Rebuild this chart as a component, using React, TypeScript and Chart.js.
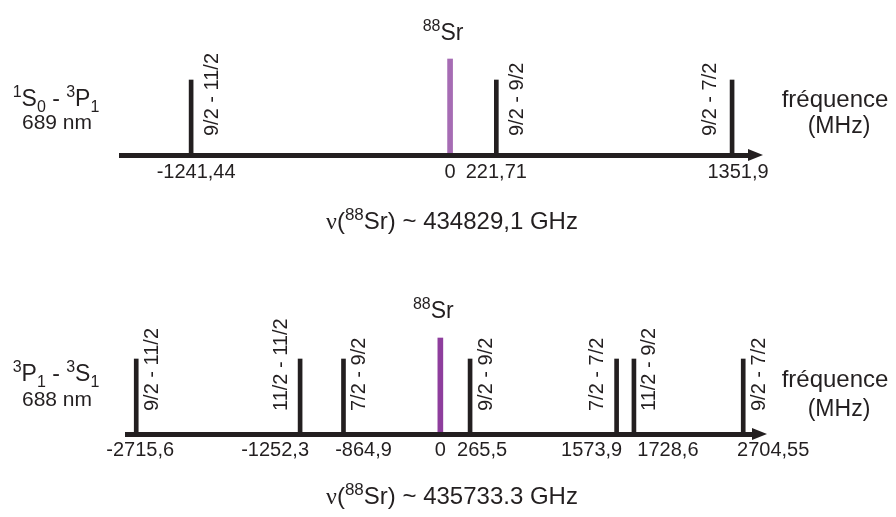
import React, { useEffect, useRef } from 'react';
import { Chart, registerables } from 'chart.js';

Chart.register(...registerables);

const FONT = '"Liberation Sans", Arial, Helvetica, sans-serif';
const SERIF = '"Liberation Serif", "Times New Roman", serif';
const INK = '#231f20';

// ---------- data: 1S0 - 3P1 (689 nm) ----------
const TOP_LINE_FREQS = [-1241.44, 221.71, 1351.9];
const TOP_LINE_NAMES = ['9/2 - 11/2', '9/2 - 9/2', '9/2 - 7/2'];
const TOP_LINE_SIDES = ['right', 'right', 'left'];
const TOP_REF_FREQS = [0];
const TOP_TICKS = [-1241.44, 0, 221.71, 1351.9];
const TOP_TICK_LABELS = ['-1241,44', '0', '221,71', '1351,9'];
const TOP_ABS_FREQ = '434829,1';

// ---------- data: 3P1 - 3S1 (688 nm) ----------
const BOT_LINE_FREQS = [-2715.6, -1252.3, -864.9, 265.5, 1573.9, 1728.6, 2704.55];
const BOT_LINE_NAMES = ['9/2 - 11/2', '11/2 - 11/2', '7/2 - 9/2', '9/2 - 9/2', '7/2 - 7/2', '11/2 - 9/2', '9/2 - 7/2'];
const BOT_LINE_SIDES = ['right', 'left', 'right', 'right', 'left', 'right', 'right'];
const BOT_REF_FREQS = [0];
const BOT_TICKS = [-2715.6, -1252.3, -864.9, 0, 265.5, 1573.9, 1728.6, 2704.55];
const BOT_TICK_LABELS = ['-2715,6', '-1252,3', '-864,9', '0', '265,5', '1573,9', '1728,6', '2704,55'];
const BOT_ABS_FREQ = '435733.3';

// relative heights of the drawn lines
const LINE_HEIGHT = 1;
const REF_HEIGHT = 1.28;
const Y_MAX = 1.52;

type Seg = { t: string; k?: 'sup' | 'sub'; f?: string };

function drawRich(ctx: CanvasRenderingContext2D, segs: Seg[], cx: number, baseline: number, size: number) {
  const small = Math.round(size * 0.7);
  let w = 0;
  const widths: number[] = [];
  segs.forEach((s) => {
    ctx.font = `${s.k ? small : size}px ${s.f || FONT}`;
    const m = ctx.measureText(s.t).width;
    widths.push(m);
    w += m;
  });
  let x = cx - w / 2;
  ctx.textAlign = 'left';
  ctx.textBaseline = 'alphabetic';
  segs.forEach((s, i) => {
    ctx.font = `${s.k ? small : size}px ${s.f || FONT}`;
    const dy = s.k === 'sup' ? -size * 0.38 : s.k === 'sub' ? size * 0.24 : 0;
    ctx.fillText(s.t, x, baseline + dy);
    x += widths[i];
  });
}

type PanelCfg = {
  height: number;
  lines: number[];
  names: string[];
  sides: string[];
  refs: number[];
  refColor: string;
  ticks: number[];
  tickLabels: string[];
  tickShift: number[];
  tickPadding: number;
  min: number;
  max: number;
  padding: { left: number; right: number; top: number; bottom: number };
  title: Seg[];
  nm: string;
  absFreq: string;
  rightOff: number;
  leftOff: number;
  lift: number;
  relSr: number;
  relTitle: number;
  relNm: number;
  relFreq: number;
  relMHz: number;
  relAbs: number;
};

const annotPlugin = {
  id: 'annot',
  beforeDraw(chart: any) {
    const cfg: PanelCfg = chart.config.options.plugins.annot;
    const xs = chart.scales.x;
    if (!xs || typeof xs.getLabelItems !== 'function') return;
    const items = xs.getLabelItems(chart.chartArea);
    items.forEach((it: any) => {
      if (it.__shifted) return;
      const i = cfg.tickLabels.indexOf(it.label);
      if (i >= 0) it.options.translation[0] += cfg.tickShift[i];
      it.__shifted = true;
    });
  },
  afterDraw(chart: any) {
    const cfg: PanelCfg = chart.config.options.plugins.annot;
    const ctx: CanvasRenderingContext2D = chart.ctx;
    const xs = chart.scales.x;
    const area = chart.chartArea;
    const axisY = area.bottom;
    ctx.save();
    ctx.fillStyle = INK;

    // arrow head
    ctx.beginPath();
    ctx.moveTo(area.right - 2, axisY - 6);
    ctx.lineTo(area.right + 13, axisY);
    ctx.lineTo(area.right - 2, axisY + 6);
    ctx.closePath();
    ctx.fill();

    // rotated transition labels
    ctx.font = `20px ${FONT}`;
    ctx.textAlign = 'left';
    ctx.textBaseline = 'middle';
    cfg.lines.forEach((f, i) => {
      const px = xs.getPixelForValue(f);
      const cx = px + (cfg.sides[i] === 'right' ? cfg.rightOff : cfg.leftOff);
      ctx.save();
      ctx.translate(cx, axisY - cfg.lift);
      ctx.rotate(-Math.PI / 2);
      ctx.fillText(cfg.names[i], 0, 0);
      ctx.restore();
    });

    // 88Sr label above the reference line
    cfg.refs.forEach((f) => {
      const px = xs.getPixelForValue(f);
      drawRich(ctx, [{ t: '88', k: 'sup' }, { t: 'Sr' }], px - 7, axisY + cfg.relSr, 23);
    });

    // transition name
    drawRich(ctx, cfg.title, 56, axisY + cfg.relTitle, 23);
    drawRich(ctx, [{ t: cfg.nm }], 57, axisY + cfg.relNm, 21);

    // axis title
    drawRich(ctx, [{ t: 'fréquence' }], 835, axisY + cfg.relFreq, 24);
    drawRich(ctx, [{ t: '(MHz)' }], 839, axisY + cfg.relMHz, 23);

    // absolute frequency
    drawRich(
      ctx,
      [{ t: 'ν', f: SERIF }, { t: '(' }, { t: '88', k: 'sup' }, { t: `Sr) ~ ${cfg.absFreq} GHz` }],
      452,
      axisY + cfg.relAbs,
      24
    );
    ctx.restore();
  },
};

function Panel({ cfg }: { cfg: PanelCfg }) {
  const ref = useRef<HTMLCanvasElement | null>(null);
  useEffect(() => {
    if (!ref.current) return;
    const chart = new Chart(ref.current, {
      type: 'bar',
      data: {
        datasets: [
          {
            data: cfg.lines.map((x) => ({ x, y: LINE_HEIGHT })),
            backgroundColor: INK,
            borderWidth: 0,
            barThickness: 4,
            grouped: false,
          } as any,
          {
            data: cfg.refs.map((x) => ({ x, y: REF_HEIGHT })),
            backgroundColor: cfg.refColor,
            borderWidth: 0,
            barThickness: 5,
            grouped: false,
          } as any,
        ],
      },
      options: {
        responsive: false,
        animation: false,
        events: [],
        layout: { padding: cfg.padding },
        plugins: {
          legend: { display: false },
          tooltip: { enabled: false },
          annot: cfg,
        } as any,
        scales: {
          x: {
            type: 'linear',
            position: 'bottom',
            min: cfg.min,
            max: cfg.max,
            bounds: 'data',
            offset: false,
            grid: { display: false, drawTicks: false, offset: false },
            border: { display: true, color: INK, width: 5, z: 1 } as any,
            ticks: {
              autoSkip: false,
              maxRotation: 0,
              minRotation: 0,
              padding: cfg.tickPadding,
              color: INK,
              font: { family: FONT, size: 20 },
              callback: (v: any) => {
                const i = cfg.ticks.indexOf(Number(v));
                return i >= 0 ? cfg.tickLabels[i] : '';
              },
            },
            afterBuildTicks: (s: any) => {
              s.ticks = cfg.ticks.map((v) => ({ value: v }));
            },
            afterFit: (s: any) => {
              s.height = 40;
            },
          } as any,
          y: { display: false, min: 0, max: Y_MAX },
        },
      },
      plugins: [annotPlugin as any],
    });
    return () => chart.destroy();
  }, [cfg]);
  return <canvas ref={ref} width={896} height={cfg.height} style={{ display: 'block' }} />;
}

const TOP_CFG: PanelCfg = {
  height: 258,
  lines: TOP_LINE_FREQS,
  names: TOP_LINE_NAMES,
  sides: TOP_LINE_SIDES,
  refs: TOP_REF_FREQS,
  refColor: '#a66cb4',
  ticks: TOP_TICKS,
  tickLabels: TOP_TICK_LABELS,
  tickShift: [5, 0, 0, 6],
  tickPadding: 5,
  min: -1577.6,
  max: 1437.8,
  padding: { left: 121, right: 146, top: 41, bottom: 63 },
  title: [{ t: '1', k: 'sup' }, { t: 'S' }, { t: '0', k: 'sub' }, { t: ' - ' }, { t: '3', k: 'sup' }, { t: 'P' }, { t: '1', k: 'sub' }],
  nm: '689 nm',
  absFreq: TOP_ABS_FREQ,
  rightOff: 21,
  leftOff: -22,
  lift: 19,
  relSr: -115,
  relTitle: -49,
  relNm: -26,
  relFreq: -48,
  relMHz: -22,
  relAbs: 74,
};

const BOT_CFG: PanelCfg = {
  height: 259,
  lines: BOT_LINE_FREQS,
  names: BOT_LINE_NAMES,
  sides: BOT_LINE_SIDES,
  refs: BOT_REF_FREQS,
  refColor: '#8e3e9d',
  ticks: BOT_TICKS,
  tickLabels: BOT_TICK_LABELS,
  tickShift: [4, -25, 20, 0, 12, -25, 34, 30],
  tickPadding: 4,
  min: -2798,
  max: 2800.8,
  padding: { left: 127, right: 142, top: 62, bottom: 43 },
  title: [{ t: '3', k: 'sup' }, { t: 'P' }, { t: '1', k: 'sub' }, { t: ' - ' }, { t: '3', k: 'sup' }, { t: 'S' }, { t: '1', k: 'sub' }],
  nm: '688 nm',
  absFreq: BOT_ABS_FREQ,
  rightOff: 16,
  leftOff: -19,
  lift: 23,
  relSr: -116,
  relTitle: -53,
  relNm: -28,
  relFreq: -47,
  relMHz: -18,
  relAbs: 70,
};

export default function App() {
  return (
    <div style={{ position: 'absolute', left: 0, top: 0, width: 896, height: 517, background: '#fff' }}>
      <Panel cfg={TOP_CFG} />
      <Panel cfg={BOT_CFG} />
    </div>
  );
}
